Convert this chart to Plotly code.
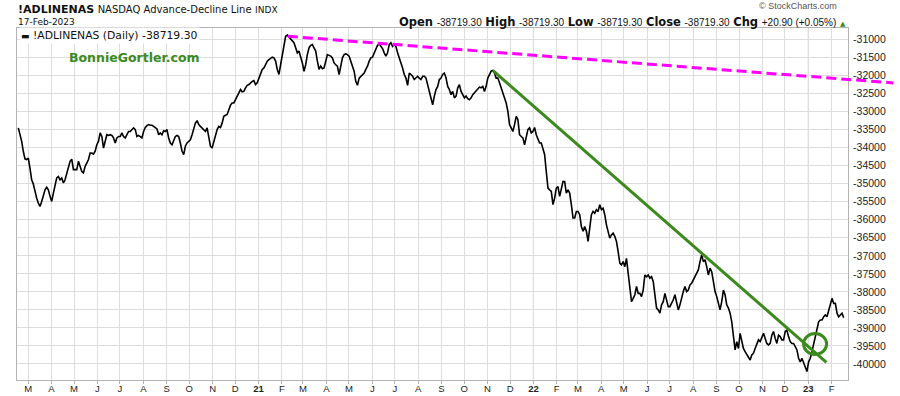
import pandas as pd
import plotly.graph_objects as go

# ---------------- data ----------------
adl_2020 = [
    -33450, -33640, -33820, -34100, -34310, -34330, -34290, -34570, -34890, -35010,
    -35260, -35400, -35540, -35630, -35490, -35310, -35170, -35100, -35170, -35350,
    -35490, -35260, -35030, -34840, -34800, -34890, -34840, -34980, -34890, -34700,
    -34520, -34380, -34320, -34610, -34610, -34610, -34380, -34520, -34660, -34700,
    -34520, -34430, -34330, -34150, -34150, -34180, -34100, -33920, -33820, -33590,
    -33690, -34010, -33780, -33640, -33660, -33640, -33660, -33730, -33870, -33730,
    -33690, -33690, -33590, -33690, -33730, -33640, -33550, -33550, -33500, -33450,
    -33500, -33690, -33660, -33690, -33730, -33550, -33440, -33390, -33360, -33380,
    -33380, -33410, -33450, -33480, -33640, -33590, -33640, -33530, -33550, -33500,
    -33730, -33870, -33920, -33820, -33690, -33660, -33690, -33870, -34100, -34190,
    -33960, -33870, -33820, -33780, -33640, -33450, -33320, -33250, -33360, -33410,
    -33450, -33500, -33550, -33450, -33730, -33960, -34010, -33820, -33640, -33500,
    -33410, -33440, -33320, -33130, -33100, -33080, -32950, -32820,
]
adl_2021 = [
    -32760, -32760, -32670, -32570, -32450, -32390, -32450, -32440, -32340, -32270,
    -32250, -32200, -32160, -32140, -32250, -32200, -32070, -31930, -31830, -31790,
    -31700, -31600, -31560, -31530, -31490, -31510, -31600, -31830, -31970, -31700,
    -31420, -31140, -30910, -30880, -30930, -31000, -31050, -31090, -31230, -31370,
    -31320, -31460, -31650, -31880, -31700, -31420, -31230, -31160, -31140, -31230,
    -31320, -31600, -31830, -31740, -31810, -31790, -31560, -31420, -31440, -31460,
    -31510, -31650, -31700, -31740, -31970, -31740, -31510, -31420, -31400, -31420,
    -31460, -31600, -31740, -31880, -32160, -32270, -32070, -32020, -31970, -31930,
    -31830, -31740, -31600, -31510, -31490, -31370, -31250, -31160, -31120, -31190,
    -31250, -31370, -31460, -31370, -31140, -31090, -31190, -31140, -31190, -31370,
    -31510, -31600, -31790, -31970, -32070, -32270, -31930, -31970, -32020, -32110,
    -32070, -32020, -32070, -32110, -32020, -32020, -32070, -32250, -32440, -32670,
    -32810, -32570, -32390, -32300, -32110, -32070,
]
adl_2022a = [
    -31970, -31930, -32070, -32300, -32390, -32530, -32440, -32620, -32570, -32340,
    -32250, -32440, -32530, -32620, -32570, -32640, -32670, -32620, -32530, -32480,
    -32440, -32390, -32320, -32340, -32300, -32440, -32300, -32070, -31970, -31880,
    -31860, -31930, -32070, -32070, -32200, -32340, -32480, -32670, -32760, -32990,
    -33360, -33450, -33550, -33360, -33130, -33220, -33640, -33690, -33730, -33920,
    -33730, -33500, -33450, -33590, -33550, -33440, -33640, -33780, -33870, -33870,
    -34010, -34190, -34660, -35120, -35170, -35210, -35580, -35400, -35120, -35080,
    -35350, -35120, -34940, -34940, -35260, -35170, -35260, -35580, -35950, -35950,
    -35770, -35770, -35860, -36190, -36320, -36190, -36320, -36600, -36230, -35860,
    -35770, -35820, -35720, -35770, -35580, -35720, -35680, -35860, -36140, -36320,
    -36510, -36420, -36370, -36460, -36600, -36880, -37200, -37250, -37160, -37300,
    -37070, -37480, -37990, -38270, -38180, -38080, -37850, -38040, -38040, -38130,
    -37950, -37530, -37580, -37530, -37620, -37580,
]
adl_2022b = [
    -37710, -38080, -38450, -38500, -38590, -38360, -38270, -38040, -38220, -38410,
    -38410, -38320, -38220, -38080, -38320, -38500, -38360, -38130, -37990, -37850,
    -37990, -37950, -37810, -37760, -37670, -37580, -37480, -37390, -37160, -36970,
    -37160, -37110, -37300, -37530, -37340, -37440, -37710, -37990, -38130, -38320,
    -38500, -38270, -37950, -38080, -38360, -38450, -38590, -38830, -39290, -39610,
    -39380, -39570, -39150, -39330, -39570, -39660, -39750, -39840, -39890, -39750,
    -39700, -39570, -39430, -39330, -39380, -39240, -39150, -39290, -39430, -39470,
    -39430, -39200, -39100, -39290, -39430, -39200, -39240, -39330, -39330, -39100,
    -39060, -39240, -39380, -39430, -39430, -39520, -39610, -39840, -39940, -39840,
    -39980, -40120, -40210, -39940, -39840, -39660, -39430, -39200, -38960, -38830,
    -38780, -38780, -38690, -38640, -38690, -38500, -38320, -38180, -38320, -38320,
    -38590, -38690, -38640, -38590, -38719.30,
]
first_date = "2020-02-17"
last_date = "2023-02-17"

month_letters = ["J", "F", "M", "A", "M", "J", "J", "A", "S", "O", "N", "D"]
y_tick_values = list(range(-40000, -30999, 500))

# trend-line annotations (date, value)
magenta_start = ("2021-02-09", -30911)
magenta_end = ("2023-04-24", -32204)
green_start = ("2021-11-08", -31855)
green_end = ("2023-01-25", -39955)
circle_center = ("2023-01-10", -39444)

# ---------------- figure ----------------
adl = adl_2020 + adl_2021 + adl_2022a + adl_2022b
dates = pd.date_range(first_date, last_date, periods=len(adl))

x_start = pd.Timestamp("2020-02-15 07:00")
x_end = pd.Timestamp("2023-02-22 17:00")
y_min, y_max = -40444, -30681

W, H = 900, 396
ML, MR, MT, MB = 17, 52, 28, 16
PW, PH = W - ML - MR, H - MT - MB


def px(xpix):
    return (xpix - ML) / PW


def py(ypix):
    return (H - MB - ypix) / PH


def dx(d):
    return (pd.Timestamp(d) - x_start) / (x_end - x_start)


def vy(v):
    return (v - y_min) / (y_max - y_min)


tick_dates = pd.date_range("2020-03-01", "2023-02-01", freq="MS")
tick_text = [f"<b>{d.strftime('%y')}</b>" if d.month == 1 else month_letters[d.month - 1]
             for d in tick_dates]

fig = go.Figure()
fig.add_trace(go.Scatter(x=dates, y=adl, mode="lines",
                         line=dict(color="black", width=1.6), hoverinfo="skip"))

grid = "#dddddd"
border = "#b4b4b4"
fig.update_layout(
    width=W, height=H, margin=dict(l=ML, r=MR, t=MT, b=MB, autoexpand=False),
    paper_bgcolor="white", plot_bgcolor="white", showlegend=False,
    font=dict(family="Liberation Sans, Arial, sans-serif", size=10, color="#222"),
)
fig.update_xaxes(range=[x_start, x_end], tickvals=tick_dates, ticktext=tick_text,
                 automargin=False,
                 showgrid=True, gridcolor=grid, gridwidth=1, zeroline=False,
                 showline=True, linecolor=border, linewidth=1, mirror=True,
                 ticks="outside", ticklen=3, tickcolor=border, ticklabelstandoff=-3,
                 tickfont=dict(size=9.5, color="#222"))
fig.update_yaxes(range=[y_min, y_max], side="right", tickvals=y_tick_values,
                 ticktext=[str(v) for v in y_tick_values], automargin=False,
                 showgrid=True, gridcolor=grid, gridwidth=1, zeroline=False,
                 showline=True, linecolor=border, linewidth=1, mirror=True,
                 ticks="", ticklabelstandoff=2,
                 tickfont=dict(size=10.5, color="#222"))

# darker year separators
for yr in ["2021-01-01", "2022-01-01", "2023-01-01"]:
    fig.add_shape(type="line", xref="x", yref="paper", x0=yr, x1=yr, y0=0, y1=1,
                  line=dict(color="#bcbcbc", width=1), layer="below")

# magenta dashed resistance line (extends past the plot edge)
fig.add_shape(type="line", xref="paper", yref="paper",
              x0=dx(magenta_start[0]), y0=vy(magenta_start[1]),
              x1=dx(magenta_end[0]), y1=vy(magenta_end[1]),
              line=dict(color="#ff00ff", width=3, dash="10px,5px"))
# green trend line
fig.add_shape(type="line", xref="x", yref="y",
              x0=green_start[0], y0=green_start[1], x1=green_end[0], y1=green_end[1],
              line=dict(color="#3c8a1e", width=3))
# green circle
fig.add_shape(type="circle", xref="x", yref="y", xsizemode="pixel", ysizemode="pixel",
              xanchor=circle_center[0], yanchor=circle_center[1],
              x0=-11.5, x1=11.5, y0=-10.5, y1=10.5,
              line=dict(color="#3c8a1e", width=3))

ann = []
# legend box
ann.append(dict(x=px(19), y=py(35.5), xref="paper", yref="paper", xanchor="left", yanchor="middle",
                text="<span style='font-size:9px'>▬</span> !ADLINENAS (Daily) -38719.30",
                showarrow=False, bgcolor="white", borderpad=1,
                font=dict(family="DejaVu Sans", size=10.8, color="#111")))
# website
ann.append(dict(x=px(134), y=py(58), xref="paper", yref="paper", xanchor="center", yanchor="middle",
                text="<b>BonnieGortler.com</b>", showarrow=False,
                font=dict(family="DejaVu Sans", size=12.5, color="#3c8a1e")))
# title
ann.append(dict(x=px(16), y=py(9), xref="paper", yref="paper", xanchor="left", yanchor="middle",
                text="<b>!ADLINENAS</b> <span style='font-size:10px'>NASDAQ Advance-Decline Line</span>"
                     " <span style='font-size:9px'>INDX</span>",
                showarrow=False, font=dict(family="DejaVu Sans", size=11, color="#111")))
ann.append(dict(x=px(16), y=py(22), xref="paper", yref="paper", xanchor="left", yanchor="middle",
                text="17-Feb-2023", showarrow=False,
                font=dict(family="DejaVu Sans", size=9, color="#111")))
num = "<span style='font-family:Liberation Sans;font-weight:normal;font-size:10px'>%s</span>"
hdr = ("<b>Open</b> " + num % "-38719.30" + " <b>High</b> " + num % "-38719.30" +
       " <b>Low</b> " + num % "-38719.30" + " <b>Close</b> " + num % "-38719.30" +
       " <b>Chg</b> " + num % "+20.90 (+0.05%)" +
       " <span style='font-size:7px;color:#3c8a1e'>▲</span>")
ann.append(dict(x=px(848), y=py(22), xref="paper", yref="paper", xanchor="right", yanchor="middle",
                text=hdr, showarrow=False,
                font=dict(family="DejaVu Sans", size=11.5, color="#111")))
ann.append(dict(x=px(839), y=py(6), xref="paper", yref="paper", xanchor="right", yanchor="middle",
                text="© StockCharts.com", showarrow=False,
                font=dict(family="Liberation Sans", size=9, color="#555")))
fig.update_layout(annotations=ann)

fig.write_html("out.html", config={"displayModeBar": False},
               post_script="document.body.style.margin='0px';document.body.style.overflow='hidden';")
